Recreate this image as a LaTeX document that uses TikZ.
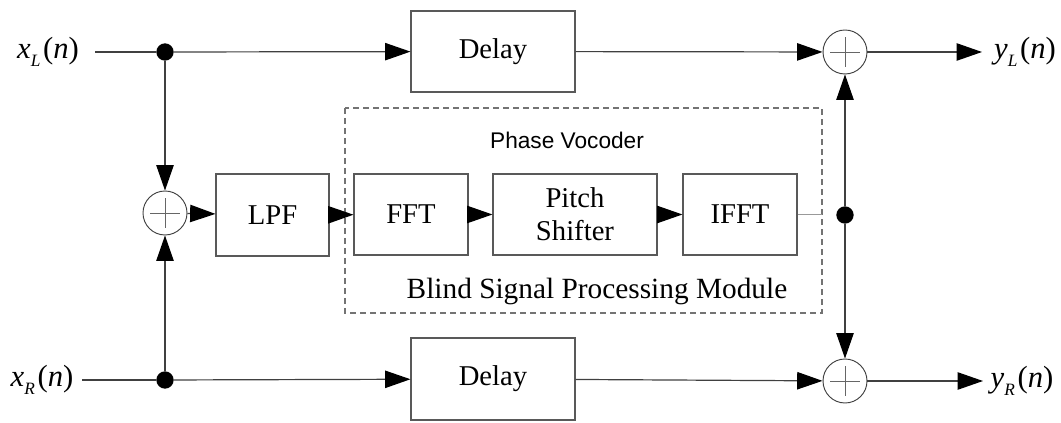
\documentclass[tikz,border=0pt]{standalone}
\usepackage{fontspec}
\setmainfont{Liberation Serif}
\newfontfamily\labelsans{Liberation Sans}
\usetikzlibrary{arrows.meta}

% signal name with subscript, e.g. x_L(n)
\newcommand{\signame}[2]{\textit{#1}\raisebox{-0.55ex}{\fontsize{13}{13}\selectfont\textit{#2}}\kern2pt(\textit{n})}

\tikzset{
  wire/.style={draw=black!75, line width=0.9pt},
  sig/.style={wire, -{Triangle[length=19pt,width=13pt,black]}},
  block/.style={draw=black!65, line width=0.8pt, inner sep=0pt, align=center,
    font=\fontsize{21.5}{25}\selectfont},
  adder/.style={circle, draw=black!75, line width=0.7pt, minimum size=33pt, inner sep=0pt,
    path picture={\draw[black!60, line width=0.6pt, shift={(path picture bounding box.center)}]
      (-11pt,0) -- (11pt,0) (0,-11pt) -- (0,11pt);}},
  junction/.style={circle, fill=black, minimum size=13pt, inner sep=0pt},
  io/.style={inner sep=0pt, font=\fontsize{23}{26}\selectfont},
}

\begin{document}
\begin{tikzpicture}[x=0.75pt, y=-0.75pt]
  \useasboundingbox (0,0) rectangle (1061,423);

  % input / output labels
  \node[io] (xL) at (48,52) {\signame{x}{L}};
  \node[io] (xR) at (42,380) {\signame{x}{R}};
  \node[io] (yL) at (1025,52) {\signame{y}{L}};
  \node[io] (yR) at (1022,381) {\signame{y}{R}};

  \coordinate (inL) at (95,52);
  \coordinate (inR) at (82,380);
  \coordinate (outL) at (982,52);
  \coordinate (outR) at (983,381);

  % branch points
  \node[junction] (jL) at (165,52) {};
  \node[junction] (jR) at (165,380) {};
  \node[junction] (jM) at (845,215) {};

  % adders
  \node[adder] (sumM) at (165,213) {};
  \node[adder] (sumL) at (845,52) {};
  \node[adder] (sumR) at (845,381) {};

  % delay paths
  \node[block, minimum width=123pt, minimum height=60.75pt] (delL) at (493,51.5) {Delay};
  \node[block, minimum width=123pt, minimum height=61.5pt] (delR) at (493,379) {Delay};

  % low-pass filter and phase vocoder chain
  \node[block, minimum width=84.75pt, minimum height=61.5pt] (lpf) at (272.5,215) {LPF};
  \node[block, minimum width=85.5pt, minimum height=60.75pt] (fft) at (411,214.5) {FFT};
  \node[block, minimum width=123pt, minimum height=60.75pt] (pitch) at (575,214.5) {Pitch\\Shifter};
  \node[block, minimum width=85.5pt, minimum height=60.75pt] (ifft) at (740,214.5) {IFFT};

  % module frame
  \draw[draw=black!55, line width=0.8pt, dash pattern=on 4.5pt off 3pt] (345,108) rectangle (822,313);
  \node[inner sep=0pt, font=\labelsans\fontsize{17}{20}\selectfont] (pv) at (567,140) {Phase Vocoder};
  \node[inner sep=0pt, font=\fontsize{22}{25}\selectfont] (bspm) at (597,291) {Blind Signal Processing Module};
  \coordinate (frameR) at (822,214.5);

  % connections
  \draw[wire] (inL) -- (jL);
  \draw[wire] (inR) -- (jR);
  \draw[sig] (jL) -- (delL);
  \draw[sig] (jR) -- (delR);
  \draw[sig] (jL) -- (sumM);
  \draw[sig] (jR) -- (sumM);
  \draw[sig] (sumM) -- (lpf);
  \draw[sig] (lpf) -- (fft);
  \draw[sig] (fft) -- (pitch);
  \draw[sig] (pitch) -- (ifft);
  \draw[draw=black!40, line width=0.5pt] (ifft) -- (frameR);
  \draw[sig] (delL) -- (sumL);
  \draw[sig] (delR) -- (sumR);
  \draw[sig] (jM) -- (sumL);
  \draw[sig] (jM) -- (sumR);
  \draw[sig] (sumL) -- (outL);
  \draw[sig] (sumR) -- (outR);
\end{tikzpicture}
\end{document}
